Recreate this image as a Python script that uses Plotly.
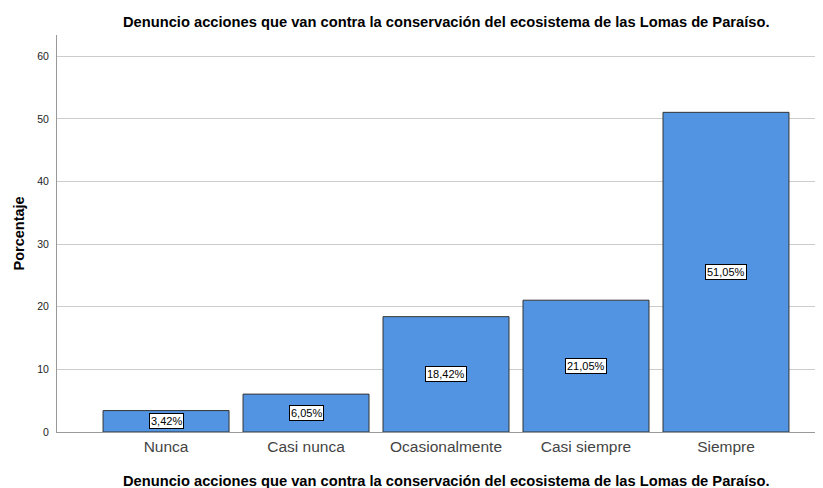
import plotly.graph_objects as go

# Datos (porcentajes)
categorias = ["Nunca", "Casi nunca", "Ocasionalmente", "Casi siempre", "Siempre"]
porcentajes = [3.42, 6.05, 18.42, 21.05, 51.05]
etiquetas = ["3,42%", "6,05%", "18,42%", "21,05%", "51,05%"]

TITULO = "Denuncio acciones que van contra la conservación del ecosistema de las Lomas de Paraíso."
FUENTE = "Liberation Sans, Arial, sans-serif"

fig = go.Figure(go.Bar(
    x=list(range(len(categorias))),
    y=porcentajes,
    width=0.9,
    marker=dict(color="#5294E2", line=dict(color="#333333", width=1)),
    hoverinfo="skip",
))

# etiquetas en caja blanca a media altura de cada barra
for i, (v, t) in enumerate(zip(porcentajes, etiquetas)):
    fig.add_annotation(
        x=i, y=v / 2, text=t, showarrow=False,
        font=dict(family=FUENTE, size=11, color="#000000"),
        bgcolor="white", bordercolor="#000000", borderwidth=1, borderpad=1,
    )

# títulos puestos a mano
fig.add_annotation(
    text="<b>" + TITULO + "</b>", xref="paper", yref="paper", x=0.508, y=1.0, yshift=13,
    xanchor="center", yanchor="middle", showarrow=False,
    font=dict(family=FUENTE, size=14.7, color="#000000"),
)
fig.add_annotation(
    text="<b>" + TITULO + "</b>", xref="paper", yref="paper", x=0.508, y=0.0, yshift=-49,
    xanchor="center", yanchor="middle", showarrow=False,
    font=dict(family=FUENTE, size=14.7, color="#000000"),
)
fig.add_annotation(
    text="<b>Porcentaje</b>", xref="paper", yref="paper", x=0.0, xshift=-39, y=0.5,
    xanchor="center", yanchor="middle", showarrow=False, textangle=-90,
    font=dict(family=FUENTE, size=14.5, color="#000000"),
)

# la página deja 8 px de margen, así que la figura mide 815x480
fig.update_layout(
    width=815, height=480,
    margin=dict(l=49, r=0, t=27, b=56),
    plot_bgcolor="white", paper_bgcolor="white",
    showlegend=False,
    font=dict(family=FUENTE),
    xaxis=dict(
        range=[-0.779, 4.693],
        tickmode="array", tickvals=list(range(len(categorias))), ticktext=categorias,
        tickfont=dict(size=15.5, color="#444444"),
        showgrid=False, zeroline=False,
        showline=True, linecolor="#999999", linewidth=1,
        ticks="", automargin=False,
    ),
    yaxis=dict(
        range=[0, 63.4],
        tickvals=[0, 10, 20, 30, 40, 50, 60],
        tickfont=dict(size=10.5, color="#222222"),
        showgrid=True, gridcolor="#CCCCCC", gridwidth=1,
        zeroline=False,
        showline=True, linecolor="#999999", linewidth=1,
        ticks="", ticklabelstandoff=5, automargin=False,
    ),
)

fig.write_html("out.html")
